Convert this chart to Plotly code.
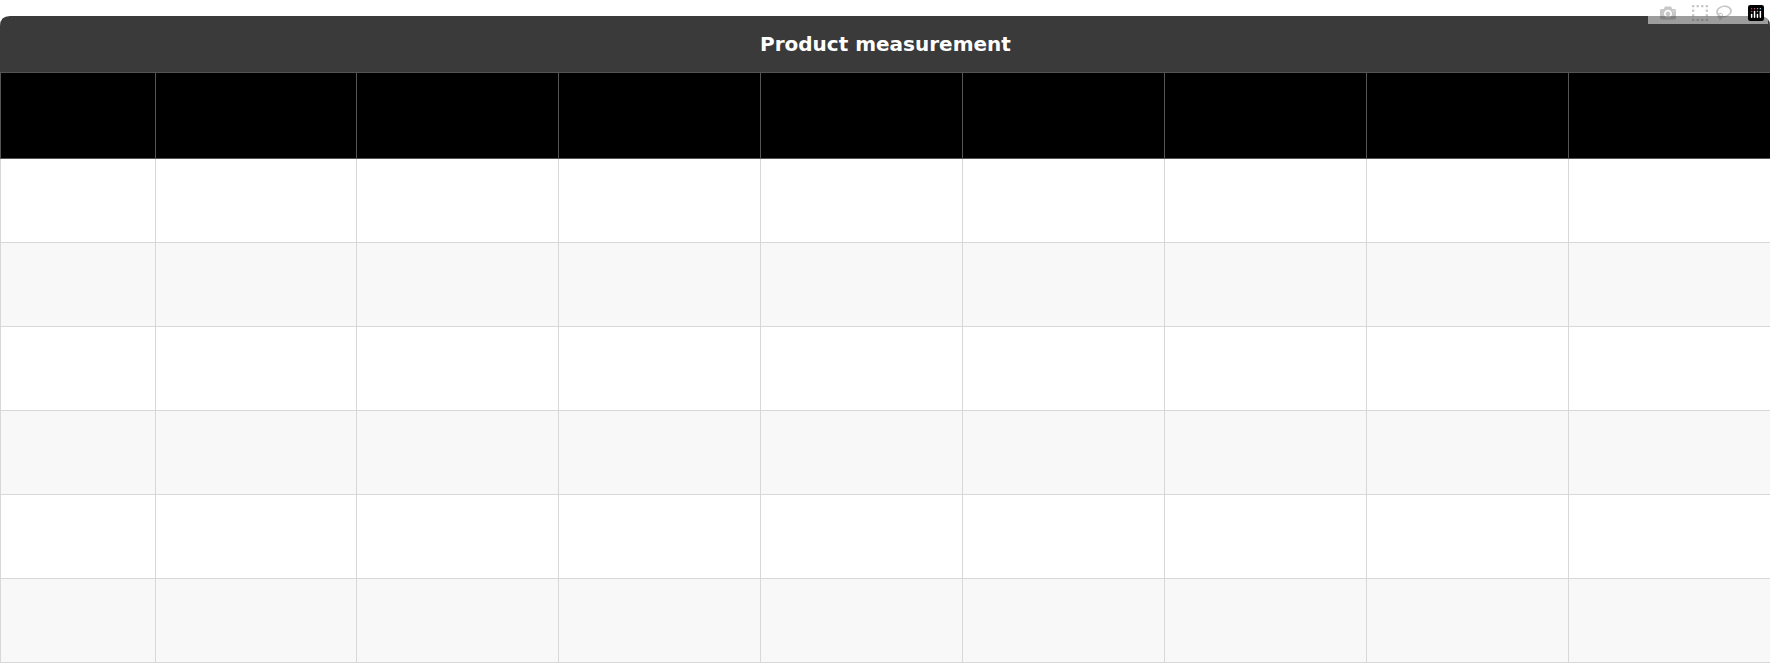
import plotly.graph_objects as go

W, H = 1770, 664
headers = ["Size", "Top<br>length(in)", "Pants<br>length(in)", "Chest(in)", "Waist(in)",
           "Inseam<br>length(in)", "Hips(in)", "Shoulder<br>width(in)", "Sleeve<br>length(in)"]
sizes = ["S", "M", "L", "XL", "XXL", "XXXL"]
top_length = ["27.1", "27.9", "28.7", "29.5", "30.3", "31.1"]
pants_length = ["19.6", "20.0", "20.4", "20.8", "21.2", "21.6"]
chest = ["40.9", "42.5", "44.4", "46.4", "48.4", "50.3"]
waist = ["28.3", "29.9", "31.8", "33.8", "35.8", "37.7"]
inseam = ["6.4", "6.6", "6.8", "7.0", "7.2", "7.4"]
hips = ["42.9", "44.4", "46.4", "48.4", "50.3", "52.3"]
shoulder = ["17.5", "18.1", "18.8", "19.5", "20.2", "20.9"]
sleeve = ["8.8", "9.0", "9.2", "9.5", "9.7", "10.0"]

cols = [sizes, top_length, pants_length, chest, waist, inseam, hips, shoulder, sleeve]
colw = [155] + [201.875] * 8
fills = ["#ffffff" if i % 2 == 0 else "#f8f8f8" for i in range(len(sizes))]

TOP, BAR_H, HEAD_H, ROW_H = 16, 56, 86, 84
y_bot = 1 - (TOP + BAR_H) / H
y_top = 1 - TOP / H

fig = go.Figure()
fig.add_trace(go.Table(
    columnwidth=colw,
    domain=dict(x=[0, 1], y=[0, y_bot]),
    header=dict(values=[""] * 9, fill_color="#000000",
                line=dict(color="#555555", width=1), height=HEAD_H),
    cells=dict(values=[[""] * 6] * 9, fill_color=[fills] * 9,
               line=dict(color="#d8d8d8", width=1), height=ROW_H),
))

# column centers
xc, acc = [], 0
for w in colw:
    xc.append(acc + w / 2)
    acc += w

hx, hy, ht = [], [], []
for j, h in enumerate(headers):
    hx.append(xc[j]); hy.append(TOP + BAR_H + HEAD_H / 2); ht.append(f"<b>{h}</b>")
fig.add_trace(go.Scatter(x=hx, y=hy, text=ht, mode="text", hoverinfo="skip",
                         textfont=dict(family="DejaVu Sans", size=19, color="white")))
cx, cy, ct = [], [], []
for j, col in enumerate(cols):
    for i, v in enumerate(col):
        cx.append(xc[j]); cy.append(TOP + BAR_H + HEAD_H + ROW_H * i + ROW_H / 2); ct.append(v)
fig.add_trace(go.Scatter(x=cx, y=cy, text=ct, mode="text", hoverinfo="skip",
                         textfont=dict(family="DejaVu Sans", size=19, color="#111111")))

rx, ry = 10 / W, 10 / H
path = (f"M 0,{y_bot} L 0,{y_top-ry} Q 0,{y_top} {rx},{y_top} L {1-rx},{y_top} "
        f"Q 1,{y_top} 1,{y_top-ry} L 1,{y_bot} Z")
fig.add_shape(type="path", path=path, xref="paper", yref="paper",
              fillcolor="#3a3a3a", line=dict(width=0), layer="below")
fig.add_annotation(text="<b>Product measurement</b>", x=0.5, y=(y_top + y_bot) / 2,
                   xref="paper", yref="paper", showarrow=False, yanchor="middle",
                   font=dict(family="DejaVu Sans", size=20, color="white"))
fig.update_layout(width=W, height=H, margin=dict(l=0, r=0, t=0, b=0),
                  paper_bgcolor="white", plot_bgcolor="rgba(0,0,0,0)", showlegend=False,
                  xaxis=dict(range=[0, W], visible=False, fixedrange=True),
                  yaxis=dict(range=[H, 0], visible=False, fixedrange=True))
fig.write_html("out.html", post_script="document.body.style.margin='0';")
